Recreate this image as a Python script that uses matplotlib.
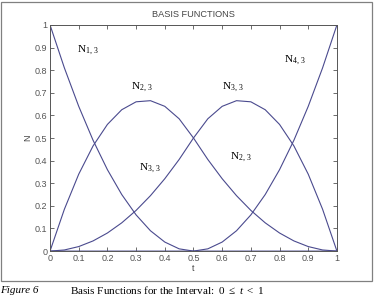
import numpy as np
import matplotlib
matplotlib.use('Agg')
import matplotlib.pyplot as plt
from matplotlib.patches import Rectangle

plt.rcParams['mathtext.fontset'] = 'custom'
plt.rcParams['mathtext.rm'] = 'Liberation Serif'
plt.rcParams['mathtext.it'] = 'Liberation Serif:italic'

# values, t in steps of 0.05
t = [0.0, 0.05, 0.1, 0.15, 0.2, 0.25, 0.3, 0.35, 0.4, 0.45, 0.5,
     0.55, 0.6, 0.65, 0.7, 0.75, 0.8, 0.85, 0.9, 0.95, 1.0]
n1 = [1.0, 0.81, 0.64, 0.49, 0.36, 0.25, 0.16, 0.09, 0.04, 0.01, 0.0,
      0.0, 0.0, 0.0, 0.0, 0.0, 0.0, 0.0, 0.0, 0.0, 0.0]
n2 = [0.0, 0.185, 0.34, 0.465, 0.56, 0.625, 0.66, 0.665, 0.64, 0.585, 0.5,
      0.405, 0.32, 0.245, 0.18, 0.125, 0.08, 0.045, 0.02, 0.005, 0.0]
n3 = [0.0, 0.005, 0.02, 0.045, 0.08, 0.125, 0.18, 0.245, 0.32, 0.405, 0.5,
      0.585, 0.64, 0.665, 0.66, 0.625, 0.56, 0.465, 0.34, 0.185, 0.0]
n4 = [0.0, 0.0, 0.0, 0.0, 0.0, 0.0, 0.0, 0.0, 0.0, 0.0, 0.0,
      0.01, 0.04, 0.09, 0.16, 0.25, 0.36, 0.49, 0.64, 0.81, 1.0]

labels = [r'$\mathrm{N}_{1,\/3}$', r'$\mathrm{N}_{2,\/3}$', r'$\mathrm{N}_{3,\/3}$',
          r'$\mathrm{N}_{4,\/3}$', r'$\mathrm{N}_{3,\/3}$', r'$\mathrm{N}_{2,\/3}$']
label_x = [0.094, 0.282, 0.599, 0.815, 0.31, 0.627]
label_y = [0.89, 0.726, 0.726, 0.845, 0.367, 0.416]

line_col = '#4a4a8e'
txt_col = '#444444'

fig = plt.figure(figsize=(3.79, 3.0), dpi=100)
fig.patches.append(Rectangle((0.003, 0.063), 0.979, 0.93, transform=fig.transFigure,
                             fill=False, edgecolor='#808080', linewidth=0.9))

ax = fig.add_axes([0.132, 0.163, 0.757, 0.754])
for y in [n1, n2, n3, n4]:
    ax.plot(t, y, color=line_col, linewidth=0.8)

for s, x, y in zip(labels, label_x, label_y):
    ax.text(x, y, s, fontsize=8, color='black', va='center', ha='left')

ax.set_xlim(0, 1)
ax.set_ylim(0, 1)
ax.set_xticks(np.arange(0, 1.01, 0.1))
ax.set_yticks(np.arange(0, 1.01, 0.1))
ax.set_xticklabels(['0', '0.1', '0.2', '0.3', '0.4', '0.5', '0.6', '0.7', '0.8', '0.9', '1'])
ax.set_yticklabels(['0', '0.1', '0.2', '0.3', '0.4', '0.5', '0.6', '0.7', '0.8', '0.9', '1'])
ax.tick_params(direction='in', length=3, width=0.6, labelsize=6.5, colors='#555555',
               top=True, right=True, pad=2)
for sp in ax.spines.values():
    sp.set_color('#555555')
    sp.set_linewidth(0.7)

ax.set_title('BASIS FUNCTIONS', fontsize=6.6, color=txt_col, family='Liberation Sans', pad=6)
ax.set_xlabel('t', fontsize=6.5, color=txt_col, labelpad=1, family='Liberation Sans')
ax.set_ylabel('N', fontsize=6.5, color=txt_col, labelpad=2, family='Liberation Sans')
for lab in ax.get_xticklabels() + ax.get_yticklabels():
    lab.set_family('Liberation Sans')

fig.text(0.0, 0.033, 'Figure 6', fontsize=8, family='Liberation Serif', style='italic', va='center')
fig.text(0.185, 0.033, r'Basis Functions for the Interval:  $\mathrm{0}\ \leq\ t\ <\ \mathrm{1}$',
         fontsize=8, family='Liberation Serif', va='center')

fig.savefig('out.png', dpi=100)
